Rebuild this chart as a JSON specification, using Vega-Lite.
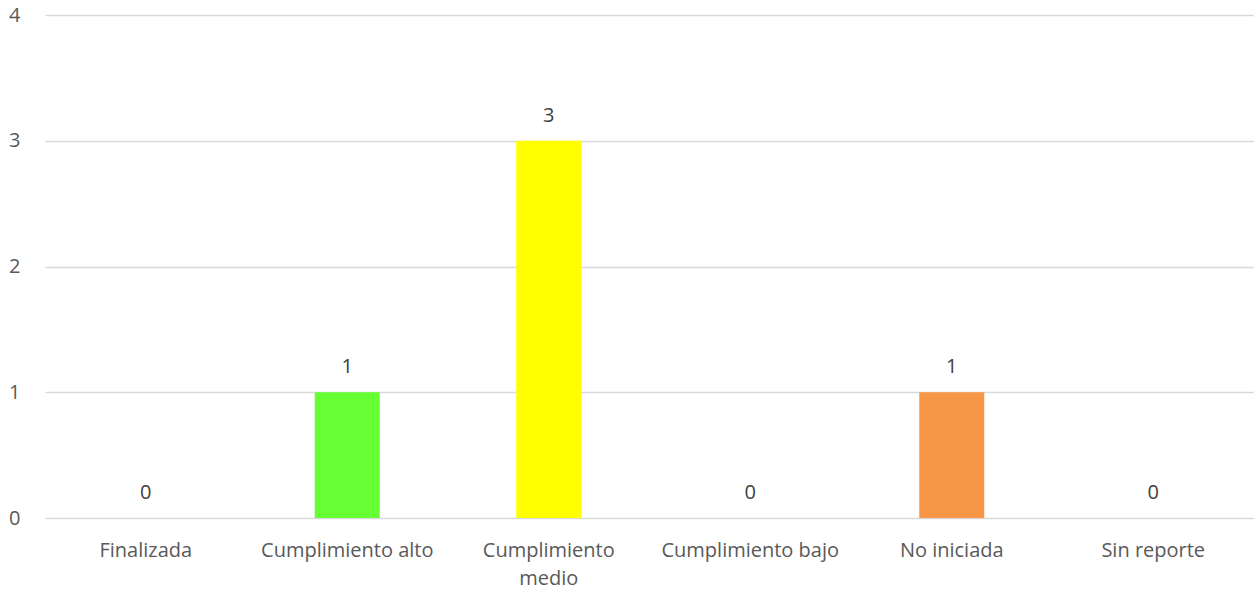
{
  "$schema": "https://vega.github.io/schema/vega-lite/v6.json",
  "width": 1209,
  "height": 503,
  "autosize": {"type": "none"},
  "padding": {"left": 45, "top": 15, "right": 0, "bottom": 73},
  "background": "white",
  "config": {
    "view": {"stroke": null},
    "font": "Open Sans"
  },
  "data": {
    "values": [
      {"estado": "Finalizada", "valor": 0, "color": "#FFFFFF"},
      {"estado": "Cumplimiento alto", "valor": 1, "color": "#66FF33"},
      {"estado": "Cumplimiento medio", "valor": 3, "color": "#FFFF00"},
      {"estado": "Cumplimiento bajo", "valor": 0, "color": "#FF0000"},
      {"estado": "No iniciada", "valor": 1, "color": "#F79646"},
      {"estado": "Sin reporte", "valor": 0, "color": "#A6A6A6"}
    ]
  },
  "encoding": {
    "x": {
      "field": "estado",
      "type": "nominal",
      "sort": null,
      "scale": {"paddingInner": 0, "paddingOuter": 0},
      "axis": {
        "title": null,
        "labelAngle": 0,
        "domain": false,
        "ticks": false,
        "labelPadding": 22,
        "labelFontSize": 20,
        "labelColor": "#595959",
        "labelFont": "Open Sans",
        "labelLineHeight": 28,
        "labelBaseline": "top",
        "labelOverlap": false,
        "labelExpr": "datum.value == 'Cumplimiento medio' ? ['Cumplimiento', 'medio'] : datum.value"
      }
    },
    "y": {
      "field": "valor",
      "type": "quantitative",
      "scale": {"domain": [0, 4], "nice": false},
      "axis": {
        "title": null,
        "values": [0, 1, 2, 3, 4],
        "domain": false,
        "ticks": false,
        "labelOverlap": false,
        "labelPadding": 25,
        "labelFontSize": 20,
        "labelColor": "#595959",
        "labelFont": "Open Sans",
        "gridColor": "#D9D9D9",
        "gridWidth": 1.5
      }
    }
  },
  "layer": [
    {
      "mark": {"type": "bar", "size": 65},
      "encoding": {
        "color": {"field": "color", "type": "nominal", "scale": null}
      }
    },
    {
      "mark": {"type": "text", "baseline": "bottom", "dy": -15, "fontSize": 20, "color": "#404040", "font": "Open Sans"},
      "encoding": {
        "text": {"field": "valor", "type": "quantitative"}
      }
    }
  ]
}
